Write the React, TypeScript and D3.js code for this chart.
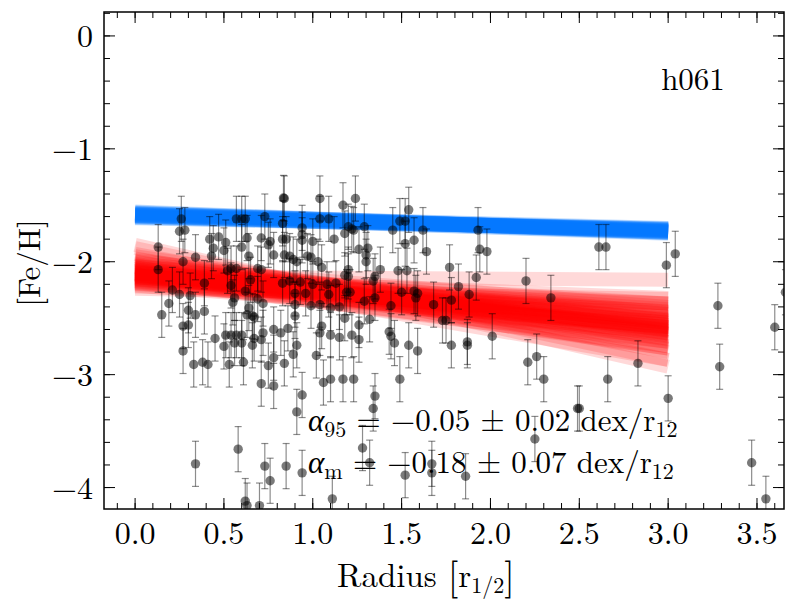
import * as d3 from 'd3';

// [radius (r_1/2), [Fe/H]]
const STARS: [number, number][] = [
  [0.13, -1.87], [0.13, -2.07], [0.15, -2.47], [0.19, -2.37], [0.21, -2.25], [0.25, -2.29],
  [0.25, -1.73], [0.26, -1.62], [0.28, -1.72], [0.27, -2.0], [0.31, -2.3], [0.3, -2.43],
  [0.34, -2.47], [0.27, -2.57], [0.3, -2.56], [0.34, -1.96], [0.39, -2.19], [0.39, -2.44],
  [0.42, -1.8], [0.44, -1.88], [0.43, -1.95], [0.47, -1.78], [0.51, -1.83], [0.5, -1.9],
  [0.52, -2.08], [0.54, -2.21], [0.54, -2.06], [0.57, -2.06], [0.57, -1.62], [0.6, -1.62],
  [0.62, -1.62], [0.63, -1.79], [0.6, -1.87], [0.64, -1.95], [0.65, -2.16], [0.62, -2.26],
  [0.56, -2.32], [0.55, -2.36], [0.69, -2.06], [0.71, -2.07], [0.71, -1.79], [0.73, -1.6],
  [0.75, -1.85], [0.69, -2.33], [0.72, -2.37], [0.64, -2.41], [0.66, -2.48], [0.63, -2.47],
  [0.67, -2.49], [0.45, -2.68], [0.51, -2.65], [0.54, -2.65], [0.57, -2.65], [0.6, -2.65],
  [0.5, -2.75], [0.56, -2.72], [0.6, -2.72], [0.66, -2.74], [0.71, -2.69], [0.72, -2.63],
  [0.67, -2.68], [0.27, -2.79], [0.33, -2.91], [0.38, -2.89], [0.41, -2.91], [0.53, -2.91],
  [0.61, -2.89], [0.71, -3.08], [0.75, -2.92], [0.34, -3.79], [0.58, -3.66], [0.73, -3.81],
  [0.76, -3.94], [0.62, -4.12], [0.63, -4.16], [0.7, -4.16],
  [0.835, -1.435], [0.84, -1.44], [0.76, -1.82], [0.78, -1.94], [0.83, -1.66], [0.83, -1.8],
  [0.85, -1.8], [0.84, -1.94], [0.87, -1.95], [0.89, -1.98], [0.91, -2.0], [0.94, -1.7],
  [0.94, -1.76], [0.94, -1.81], [0.97, -1.95], [0.99, -1.96], [1.0, -1.82], [1.03, -2.0],
  [1.05, -2.05], [1.04, -1.44], [1.04, -1.62], [1.09, -1.62], [1.12, -1.8], [1.17, -1.5],
  [1.18, -1.75], [1.2, -1.69], [1.22, -1.71], [1.24, -1.44], [1.23, -1.72], [1.29, -1.69],
  [1.26, -1.89], [1.31, -1.88], [1.3, -1.94], [1.3, -2.0], [1.2, -2.07], [1.2, -2.13],
  [1.18, -2.12], [1.35, -2.13], [1.38, -2.07], [1.34, -2.17], [1.45, -1.72], [1.49, -1.64],
  [1.52, -1.64], [1.54, -1.54], [1.52, -1.84], [1.57, -1.81], [1.48, -2.08], [1.53, -2.08],
  [0.83, -2.19], [0.87, -2.17], [0.93, -2.18], [1.0, -2.2], [1.08, -2.2], [1.13, -2.19],
  [0.9, -2.28], [0.96, -2.28], [1.09, -2.29], [1.19, -2.27], [1.21, -2.27], [1.29, -2.35],
  [1.35, -2.32], [1.44, -2.39], [1.5, -2.27], [1.57, -2.26], [1.59, -2.28], [0.9, -2.38],
  [0.99, -2.39], [1.04, -2.38], [1.1, -2.41], [1.15, -2.4], [0.9, -2.48], [1.18, -2.5],
  [1.26, -2.56], [1.32, -2.51], [1.05, -2.57], [1.04, -2.63], [0.78, -2.6], [0.82, -2.63],
  [0.86, -2.59], [1.1, -2.65], [1.15, -2.67], [1.22, -2.65], [1.26, -2.69], [1.43, -2.62],
  [1.44, -2.66], [1.46, -2.72], [1.54, -2.74], [0.91, -2.74], [1.02, -2.83], [0.78, -3.1],
  [0.94, -3.18], [0.91, -3.33], [1.06, -3.07], [1.1, -3.04], [1.17, -3.04], [1.23, -3.04],
  [1.35, -3.19], [1.34, -3.3], [1.49, -3.04], [1.28, -3.65], [1.32, -3.78], [0.85, -3.81],
  [0.94, -3.87], [1.11, -4.1], [1.52, -3.89], [1.59, -2.79], [0.78, -2.85], [0.84, -2.9],
  [0.89, -2.82],
  [1.62, -1.72], [1.64, -1.91], [1.58, -2.32], [1.68, -2.38], [1.73, -2.52], [1.75, -2.52],
  [1.77, -2.05], [1.78, -2.34], [1.78, -2.74], [1.82, -2.22], [1.87, -2.71], [1.87, -2.74],
  [1.88, -2.29], [1.92, -2.14], [1.93, -1.72], [1.94, -1.89], [1.98, -1.91], [2.01, -2.66],
  [2.2, -2.17], [2.21, -2.89], [2.26, -2.84], [2.3, -3.04], [2.34, -2.32], [2.49, -3.3],
  [2.5, -3.3], [2.61, -1.87], [2.65, -1.87], [2.66, -3.04], [2.83, -2.9], [2.99, -2.03],
  [3.04, -1.93], [3.0, -3.21], [3.28, -2.39], [3.29, -2.93], [3.6, -2.58], [3.66, -2.27],
  [1.67, -3.79], [1.67, -3.87], [1.86, -3.9], [2.25, -3.57], [3.47, -3.78], [3.55, -4.1],
];
const FEH_ERR = 0.2;

// posterior draws [intercept, slope]
const FIT_95: [number, number][] = [
  [-1.585, -0.047], [-1.575, -0.052], [-1.595, -0.042], [-1.57, -0.055], [-1.6, -0.04],
  [-1.58, -0.05], [-1.59, -0.044], [-1.565, -0.058], [-1.605, -0.036], [-1.578, -0.046],
  [-1.592, -0.049], [-1.583, -0.041], [-1.588, -0.053], [-1.56, -0.06], [-1.61, -0.033],
];
const FIT_M: [number, number][] = [
  [-2.11, -0.15], [-2.08, -0.17], [-2.14, -0.13], [-2.05, -0.19], [-2.17, -0.11],
  [-2.1, -0.16], [-2.02, -0.21], [-2.19, -0.09], [-2.12, -0.14], [-2.07, -0.18],
  [-2.15, -0.12], [-2.0, -0.23], [-2.2, -0.08], [-2.09, -0.15], [-2.13, -0.17],
  [-2.04, -0.16], [-2.16, -0.14], [-1.97, -0.26], [-2.22, -0.05], [-2.11, -0.19],
  [-2.06, -0.13], [-2.18, -0.15], [-2.03, -0.2], [-2.14, -0.1], [-1.93, -0.29],
  [-2.1, -0.12], [-2.12, -0.18], [-2.08, -0.21], [-2.16, -0.07], [-1.99, -0.19],
  [-2.21, -0.12], [-2.05, -0.24], [-2.13, -0.15], [-1.88, -0.33], [-2.24, -0.03],
  [-2.09, -0.11], [-2.11, -0.22], [-2.01, -0.17], [-2.17, -0.18], [-2.07, -0.14],
  [-1.95, -0.23], [-2.15, -0.2], [-2.1, -0.09], [-1.85, -0.36], [-2.19, -0.13],
  [-2.04, -0.12], [-2.12, -0.16], [-2.06, -0.27], [-2.14, -0.06], [-1.98, -0.21],
  [-2.13, -0.01],
];
const FIT_RANGE: [number, number] = [0, 3];

const X_TICKS = [0, 0.5, 1, 1.5, 2, 2.5, 3, 3.5];
const Y_TICKS = [0, -1, -2, -3, -4];

const FONT = "'Latin Modern Roman','CMU Serif','Liberation Serif','Times New Roman',serif";

export default function App() {
  const width = 800;
  const height = 600;
  const margin = { top: 12, right: 16, bottom: 91, left: 104 };
  const right = width - margin.right;
  const bottom = height - margin.bottom;

  const x = d3.scaleLinear().domain([-0.175, 3.652]).range([margin.left, right]);
  const y = d3.scaleLinear().domain([-4.19, 0.212]).range([bottom, margin.top]);

  const xMinor = d3.range(-1, 37).map(i => i / 10);
  const yMinor = d3.range(-20, 2).map(i => i / 5);

  const fitLine = ([a, b]: [number, number]) => ({
    x1: x(FIT_RANGE[0]), y1: y(a + b * FIT_RANGE[0]),
    x2: x(FIT_RANGE[1]), y2: y(a + b * FIT_RANGE[1]),
  });

  return (
    <svg width={width} height={height} style={{ position: 'fixed', left: 0, top: 0, background: '#fff' }}
      fontFamily={FONT}>
      <defs>
        <clipPath id="plot">
          <rect x={margin.left} y={margin.top} width={right - margin.left} height={bottom - margin.top} />
        </clipPath>
      </defs>

      <g clipPath="url(#plot)">
        {FIT_M.map((d, i) => (
          <line key={'m' + i} {...fitLine(d)} stroke="#ff0000" strokeWidth={14} strokeOpacity={0.15} />
        ))}
        {FIT_95.map((d, i) => (
          <line key={'b' + i} {...fitLine(d)} stroke="#0077ff" strokeWidth={15} strokeOpacity={0.22} />
        ))}
        {STARS.map(([r, f], i) => (
          <g key={'s' + i}>
            <g stroke="#000" strokeOpacity={0.45} strokeWidth={1.2}>
              <line x1={x(r)} x2={x(r)} y1={y(f - FEH_ERR)} y2={y(f + FEH_ERR)} />
              <line x1={x(r) - 3.5} x2={x(r) + 3.5} y1={y(f - FEH_ERR)} y2={y(f - FEH_ERR)} />
              <line x1={x(r) - 3.5} x2={x(r) + 3.5} y1={y(f + FEH_ERR)} y2={y(f + FEH_ERR)} />
            </g>
            <circle cx={x(r)} cy={y(f)} r={4.7} fill="#000" fillOpacity={0.52} />
          </g>
        ))}
      </g>

      {/* ticks on all four sides, pointing in */}
      <g stroke="#000" strokeWidth={1}>
        {xMinor.map(t => (
          <g key={'xm' + t}>
            <line x1={x(t)} x2={x(t)} y1={bottom} y2={bottom - 6} />
            <line x1={x(t)} x2={x(t)} y1={margin.top} y2={margin.top + 6} />
          </g>
        ))}
        {X_TICKS.map(t => (
          <g key={'xM' + t}>
            <line x1={x(t)} x2={x(t)} y1={bottom} y2={bottom - 11} />
            <line x1={x(t)} x2={x(t)} y1={margin.top} y2={margin.top + 11} />
          </g>
        ))}
        {yMinor.map(t => (
          <g key={'ym' + t}>
            <line x1={margin.left} x2={margin.left + 6} y1={y(t)} y2={y(t)} />
            <line x1={right} x2={right - 6} y1={y(t)} y2={y(t)} />
          </g>
        ))}
        {Y_TICKS.map(t => (
          <g key={'yM' + t}>
            <line x1={margin.left} x2={margin.left + 11} y1={y(t)} y2={y(t)} />
            <line x1={right} x2={right - 11} y1={y(t)} y2={y(t)} />
          </g>
        ))}
      </g>
      <rect x={margin.left} y={margin.top} width={right - margin.left} height={bottom - margin.top}
        fill="none" stroke="#000" strokeWidth={1.5} />

      <g fill="#000">
        {X_TICKS.map(t => (
          <text key={'xl' + t} x={x(t)} y={bottom + 35} textAnchor="middle" fontSize={32}>{t.toFixed(1)}</text>
        ))}
        {Y_TICKS.map(t => (
          <text key={'yl' + t} x={93} y={y(t) + 11} textAnchor="end" fontSize={32}>
            {t === 0 ? '0' : '\u2212' + Math.abs(t)}
          </text>
        ))}
        <text x={426} y={587} textAnchor="middle" fontSize={33}>
          Radius <tspan fontSize={38} dy={2}>[</tspan>
          <tspan dy={-2}>r</tspan>
          <tspan fontSize={22} dy={6}>1/2</tspan>
          <tspan fontSize={38} dy={-4}>]</tspan>
        </text>
        <text transform="translate(40,263) rotate(-90)" textAnchor="middle" fontSize={31}>[Fe/H]</text>
        <text x={693} y={90} textAnchor="middle" fontSize={31}>h061</text>

        <g fontSize={31}>
          <text x={308} y={431}>
            <tspan fontStyle="italic">α</tspan>
            <tspan fontSize={22} dy={6}>95</tspan>
            <tspan dy={-6}> = −0.05 ± 0.02 dex/r</tspan>
            <tspan fontSize={22} dy={6}>12</tspan>
          </text>
          <text x={308} y={473}>
            <tspan fontStyle="italic">α</tspan>
            <tspan fontSize={22} dy={6}>m</tspan>
            <tspan dy={-6}> = −0.18 ± 0.07 dex/r</tspan>
            <tspan fontSize={22} dy={6}>12</tspan>
          </text>
        </g>
      </g>
    </svg>
  );
}
